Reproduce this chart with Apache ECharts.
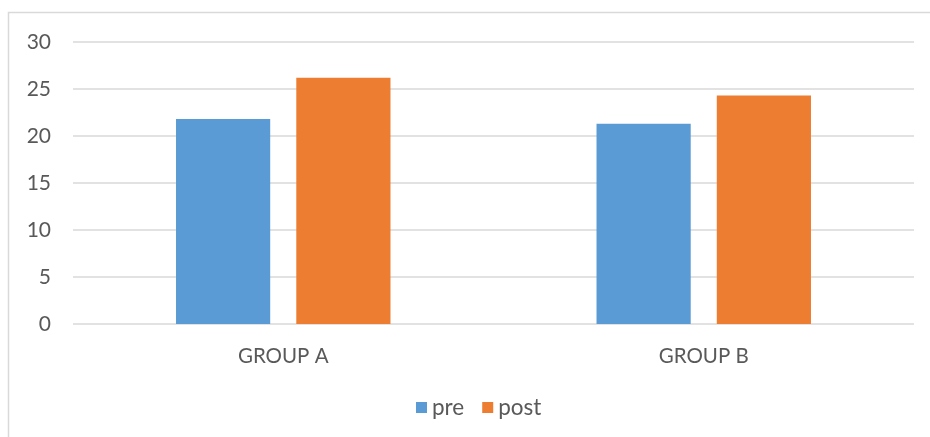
<!DOCTYPE html>
<html>
<head>
<meta charset="utf-8">
<script src="https://cdn.jsdelivr.net/npm/echarts@6/dist/echarts.min.js"></script>
<style>
  html, body { margin: 0; padding: 0; background: #fff; }
  #chart { width: 930px; height: 437px; }
</style>
</head>
<body>
<div id="chart"></div>
<script>
// Pre/post scores for the two groups
const categories = ['GROUP A', 'GROUP B'];
const preValues = [21.8, 21.3];
const postValues = [26.2, 24.3];
const seriesNames = ['pre', 'post'];

const textColor = '#595959';
const fontFamily = 'Lato, "Open Sans", sans-serif';

const chart = echarts.init(document.getElementById('chart'), null, { renderer: 'canvas' });

chart.setOption({
  animation: false,
  backgroundColor: '#ffffff',
  color: ['#5b9bd5', '#ed7d31'],
  graphic: [{
    type: 'rect',
    shape: { x: 8.5, y: 12.5, width: 1000, height: 1000 },
    style: { fill: 'none', stroke: '#d9d9d9', lineWidth: 1.5 },
    silent: true
  }],
  grid: { left: 73, right: 16, top: 42, bottom: 113 },
  legend: {
    data: seriesNames,
    top: 396,
    left: 416,
    padding: 0,
    itemWidth: 11,
    itemHeight: 11,
    itemGap: 18,
    icon: 'rect',
    textStyle: { color: textColor, fontSize: 22.5, fontFamily: fontFamily, padding: [0, 0, 0, 0] }
  },
  xAxis: {
    type: 'category',
    data: categories,
    axisLine: { show: false },
    axisTick: { show: false },
    axisLabel: { color: textColor, fontSize: 20.5, fontFamily: fontFamily, margin: 22 }
  },
  yAxis: {
    type: 'value',
    min: 0,
    max: 30,
    interval: 5,
    axisLine: { show: false },
    axisTick: { show: false },
    splitLine: { lineStyle: { color: '#d9d9d9', width: 1.5 } },
    axisLabel: { color: textColor, fontSize: 21, fontFamily: fontFamily, margin: 22 }
  },
  series: [
    {
      name: seriesNames[0],
      type: 'bar',
      data: preValues,
      barWidth: '22.4%',
      barGap: '27.7%'
    },
    {
      name: seriesNames[1],
      type: 'bar',
      data: postValues,
      barWidth: '22.4%',
      barGap: '27.7%'
    }
  ]
});
</script>
</body>
</html>
